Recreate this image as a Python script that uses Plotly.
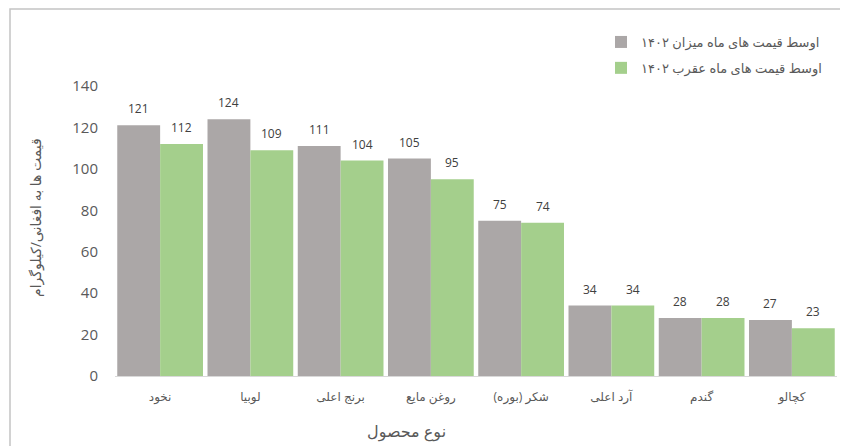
import plotly.graph_objects as go

categories = ["نخود", "لوبیا", "برنج اعلی", "روغن مایع", "شکر (بوره)", "آرد اعلی", "گندم", "کچالو"]
mizan_values = [121, 124, 111, 105, 75, 34, 28, 27]
aqrab_values = [112, 109, 104, 95, 74, 34, 28, 23]
series_names = ["اوسط قیمت های ماه میزان ۱۴۰۲", "اوسط قیمت های ماه عقرب ۱۴۰۲"]
y_ticks = [0, 20, 40, 60, 80, 100, 120, 140]
x_title = "نوع محصول"
y_title = "قیمت ها به افغانی/کیلوگرام"

GRAY = "#aba7a7"
GREEN = "#a4cf8c"
TXT = "#595959"
FONT = "Open Sans, DejaVu Sans, sans-serif"

# page has an 8px body margin; figure coordinates = reference coordinates - 8
OFF = 8
W, H = 840, 438
L, R, T, B = 107, 11, 78, 70
pw, ph = W - L - R, H - T - B

def px(xp):
    return (xp - OFF - L) / pw

def py(yp):
    return (H - B - (yp - OFF)) / ph

fig = go.Figure()
for name, vals, col, grp, shift in [(series_names[0], mizan_values, GRAY, "a", -21.5),
                                    (series_names[1], aqrab_values, GREEN, "b", 21.5)]:
    fig.add_trace(go.Bar(
        x=categories, y=vals, name=name, marker_color=col, marker_line_width=0,
        legendgroup=grp,
    ))
    for c, v in zip(categories, vals):
        fig.add_annotation(x=c, y=v, xref="x", yref="y", text=str(v),
                           showarrow=False, xshift=shift, yshift=6,
                           yanchor="bottom",
                           font=dict(size=12, color="#404040", family=FONT))

fig.update_layout(
    width=W, height=H,
    margin=dict(l=L, r=R, t=T, b=B),
    paper_bgcolor="white", plot_bgcolor="white",
    barmode="group", bargap=0.05, bargroupgap=0,
    font=dict(family=FONT, color=TXT, size=13),
    showlegend=True,
    legend=dict(x=px(601), y=py(27), xanchor="left", yanchor="top",
                font=dict(size=13, color=TXT), tracegroupgap=6,
                bgcolor="rgba(0,0,0,0)"),
    xaxis=dict(showline=True, linecolor="#d9d9d9", linewidth=1,
               showgrid=False, ticks="", tickfont=dict(size=12, color=TXT),
               ticklabelstandoff=10, fixedrange=True),
    yaxis=dict(range=[0, 140], tickvals=y_ticks, showgrid=False,
               zeroline=False, showline=False, ticks="",
               ticklabelstandoff=16, tickfont=dict(size=15, color=TXT)),
    shapes=[dict(type="rect", xref="paper", yref="paper",
                 x0=px(10), x1=px(W + 40), y0=py(H + 40), y1=py(9),
                 line=dict(color="#c4c4c4", width=1.5), layer="below")],
)
fig.add_annotation(text=x_title, xref="paper", yref="paper", x=px(406), y=py(431),
                   xanchor="center", yanchor="middle",
                   showarrow=False, font=dict(size=16, color=TXT))
fig.add_annotation(text=y_title, xref="paper", yref="paper", x=px(35), y=py(218),
                   xanchor="center", yanchor="middle",
                   showarrow=False, textangle=-90, font=dict(size=14, color=TXT))

fig.write_html("out.html")
